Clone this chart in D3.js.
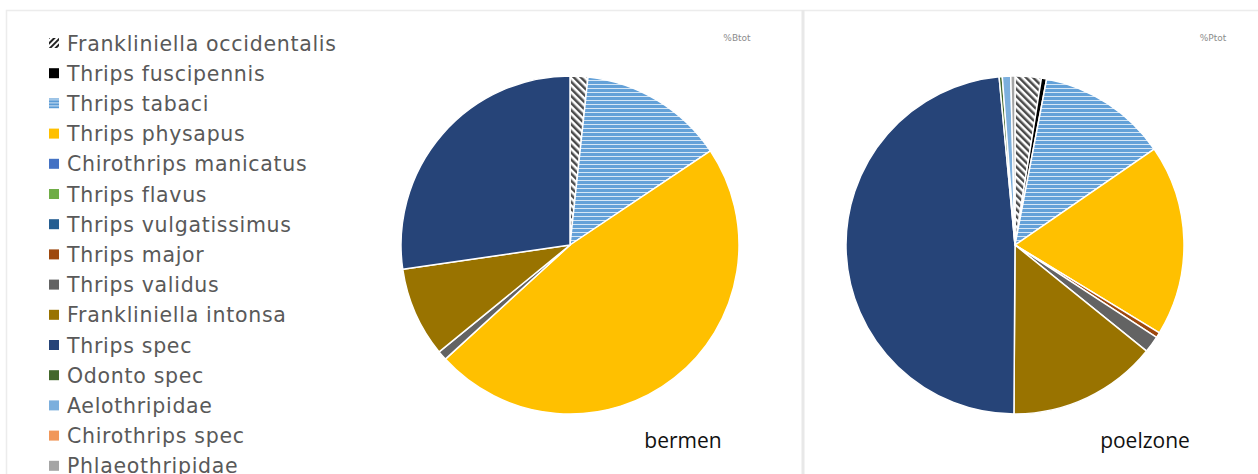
<!DOCTYPE html>
<html>
<head>
<meta charset="utf-8">
<script src="https://cdn.jsdelivr.net/npm/d3@7"></script>
<style>
  html, body { margin: 0; padding: 0; background: #fff; }
  svg { display: block; }
</style>
</head>
<body>
<svg id="chart" width="1258" height="474"></svg>
<script>
// Species (legend order = slice order, clockwise from 12 o'clock)
const species = [
  "Frankliniella occidentalis", "Thrips fuscipennis", "Thrips tabaci",
  "Thrips physapus", "Chirothrips manicatus", "Thrips flavus",
  "Thrips vulgatissimus", "Thrips major", "Thrips validus",
  "Frankliniella intonsa", "Thrips spec", "Odonto spec",
  "Aelothripidae", "Chirothrips spec", "Phlaeothripidae"
];

// Share of total catch (%) per species
const bermen = [1.7, 0, 13.9, 47.6, 0, 0, 0, 0, 0.9, 8.6, 27.3, 0, 0, 0, 0];
const poelzone = [2.5, 0.5, 12.4, 18.3, 0, 0, 0, 0.5, 1.6, 14.3, 48.4, 0.3, 0.8, 0, 0.4];

const chartTitles = ["bermen", "poelzone"];
const seriesNames = ["%Btot", "%Ptot"];

const colors = [
  "url(#hatch)", "#000000", "url(#stripes)", "#FFC000", "#4472C4",
  "#70AD47", "#255E91", "#9E480E", "#636363", "#997300",
  "#264478", "#43682B", "#7CAFDD", "#F1975A", "#A5A5A5"
];

const svg = d3.select("#chart");
const defs = svg.append("defs");

// diagonal dark/white hatch
const hatch = defs.append("pattern").attr("id", "hatch")
  .attr("patternUnits", "userSpaceOnUse").attr("width", 5).attr("height", 5)
  .attr("patternTransform", "rotate(-45)");
hatch.append("rect").attr("width", 5).attr("height", 5).attr("fill", "#fff");
hatch.append("rect").attr("width", 2.5).attr("height", 5).attr("fill", "#4a4a4a");

// horizontal light-blue stripes
const stripes = defs.append("pattern").attr("id", "stripes")
  .attr("patternUnits", "userSpaceOnUse").attr("width", 8).attr("height", 4);
stripes.append("rect").attr("width", 8).attr("height", 4).attr("fill", "#64a1d8");
stripes.append("rect").attr("y", 3).attr("width", 8).attr("height", 1).attr("fill", "#d6e7f6");

// small legend swatches
const hatchSm = defs.append("pattern").attr("id", "hatchSm")
  .attr("patternUnits", "userSpaceOnUse").attr("width", 4).attr("height", 4)
  .attr("patternTransform", "rotate(-45)");
hatchSm.append("rect").attr("width", 4).attr("height", 4).attr("fill", "#fff");
hatchSm.append("rect").attr("width", 4).attr("height", 2).attr("fill", "#222");
const stripesSm = defs.append("pattern").attr("id", "stripesSm")
  .attr("patternUnits", "userSpaceOnUse").attr("width", 4).attr("height", 3);
stripesSm.append("rect").attr("width", 4).attr("height", 3).attr("fill", "#5B9BD5");
stripesSm.append("rect").attr("y", 2).attr("width", 4).attr("height", 1).attr("fill", "#cfe2f3");

// frame and divider
svg.append("rect").attr("x", 6.5).attr("y", 10.5).attr("width", 1260).attr("height", 470)
  .attr("fill", "none").attr("stroke", "#ececec").attr("stroke-width", 1.5);
svg.append("line").attr("x1", 803).attr("x2", 803).attr("y1", 10).attr("y2", 474)
  .attr("stroke", "#e8e8e8").attr("stroke-width", 3);

// legend
const legendColors = colors.map((c, i) => i === 0 ? "url(#hatchSm)" : i === 2 ? "url(#stripesSm)" : c);
const legend = svg.append("g").attr("transform", "translate(48,43)");
const items = legend.selectAll("g").data(species).join("g")
  .attr("transform", (d, i) => `translate(0,${i * 30.2})`);
items.append("rect").attr("x", 1).attr("y", -5).attr("width", 10).attr("height", 10)
  .attr("fill", (d, i) => legendColors[i]);
items.append("text").attr("x", 19).attr("y", 7.5)
  .attr("font-family", "DejaVu Sans, Verdana, sans-serif").attr("font-size", 20.5)
  .attr("letter-spacing", 0.7)
  .attr("fill", "#595959").text(d => d);

// pies
const pie = d3.pie().sort(null).value(d => d.v);
const centers = [{ x: 570, y: 245 }, { x: 1015, y: 245 }];
const radius = 169;
const arc = d3.arc().innerRadius(0).outerRadius(radius);

[bermen, poelzone].forEach((vals, k) => {
  const g = svg.append("g").attr("transform", `translate(${centers[k].x},${centers[k].y})`);
  const data = pie(vals.map((v, i) => ({ v, i })));
  g.selectAll("path").data(data.filter(d => d.data.v > 0)).join("path")
    .attr("d", arc)
    .attr("fill", d => colors[d.data.i])
    .attr("stroke", "#fff").attr("stroke-width", 1.5).attr("stroke-linejoin", "round");
});

// series names (small, top right of each pie)
svg.selectAll("text.series").data(seriesNames).join("text").attr("class", "series")
  .attr("x", (d, i) => [737, 1213][i]).attr("y", 41).attr("text-anchor", "middle")
  .attr("font-family", "DejaVu Sans, Verdana, sans-serif").attr("font-size", 9)
  .attr("fill", "#8c8c8c").text(d => d);

// chart labels
svg.selectAll("text.title").data(chartTitles).join("text").attr("class", "title")
  .attr("x", (d, i) => [683, 1145][i]).attr("y", 448).attr("text-anchor", "middle")
  .attr("font-family", "Open Sans, Calibri, sans-serif").attr("font-size", 21)
  .attr("fill", "#111").text(d => d);
</script>
</body>
</html>
